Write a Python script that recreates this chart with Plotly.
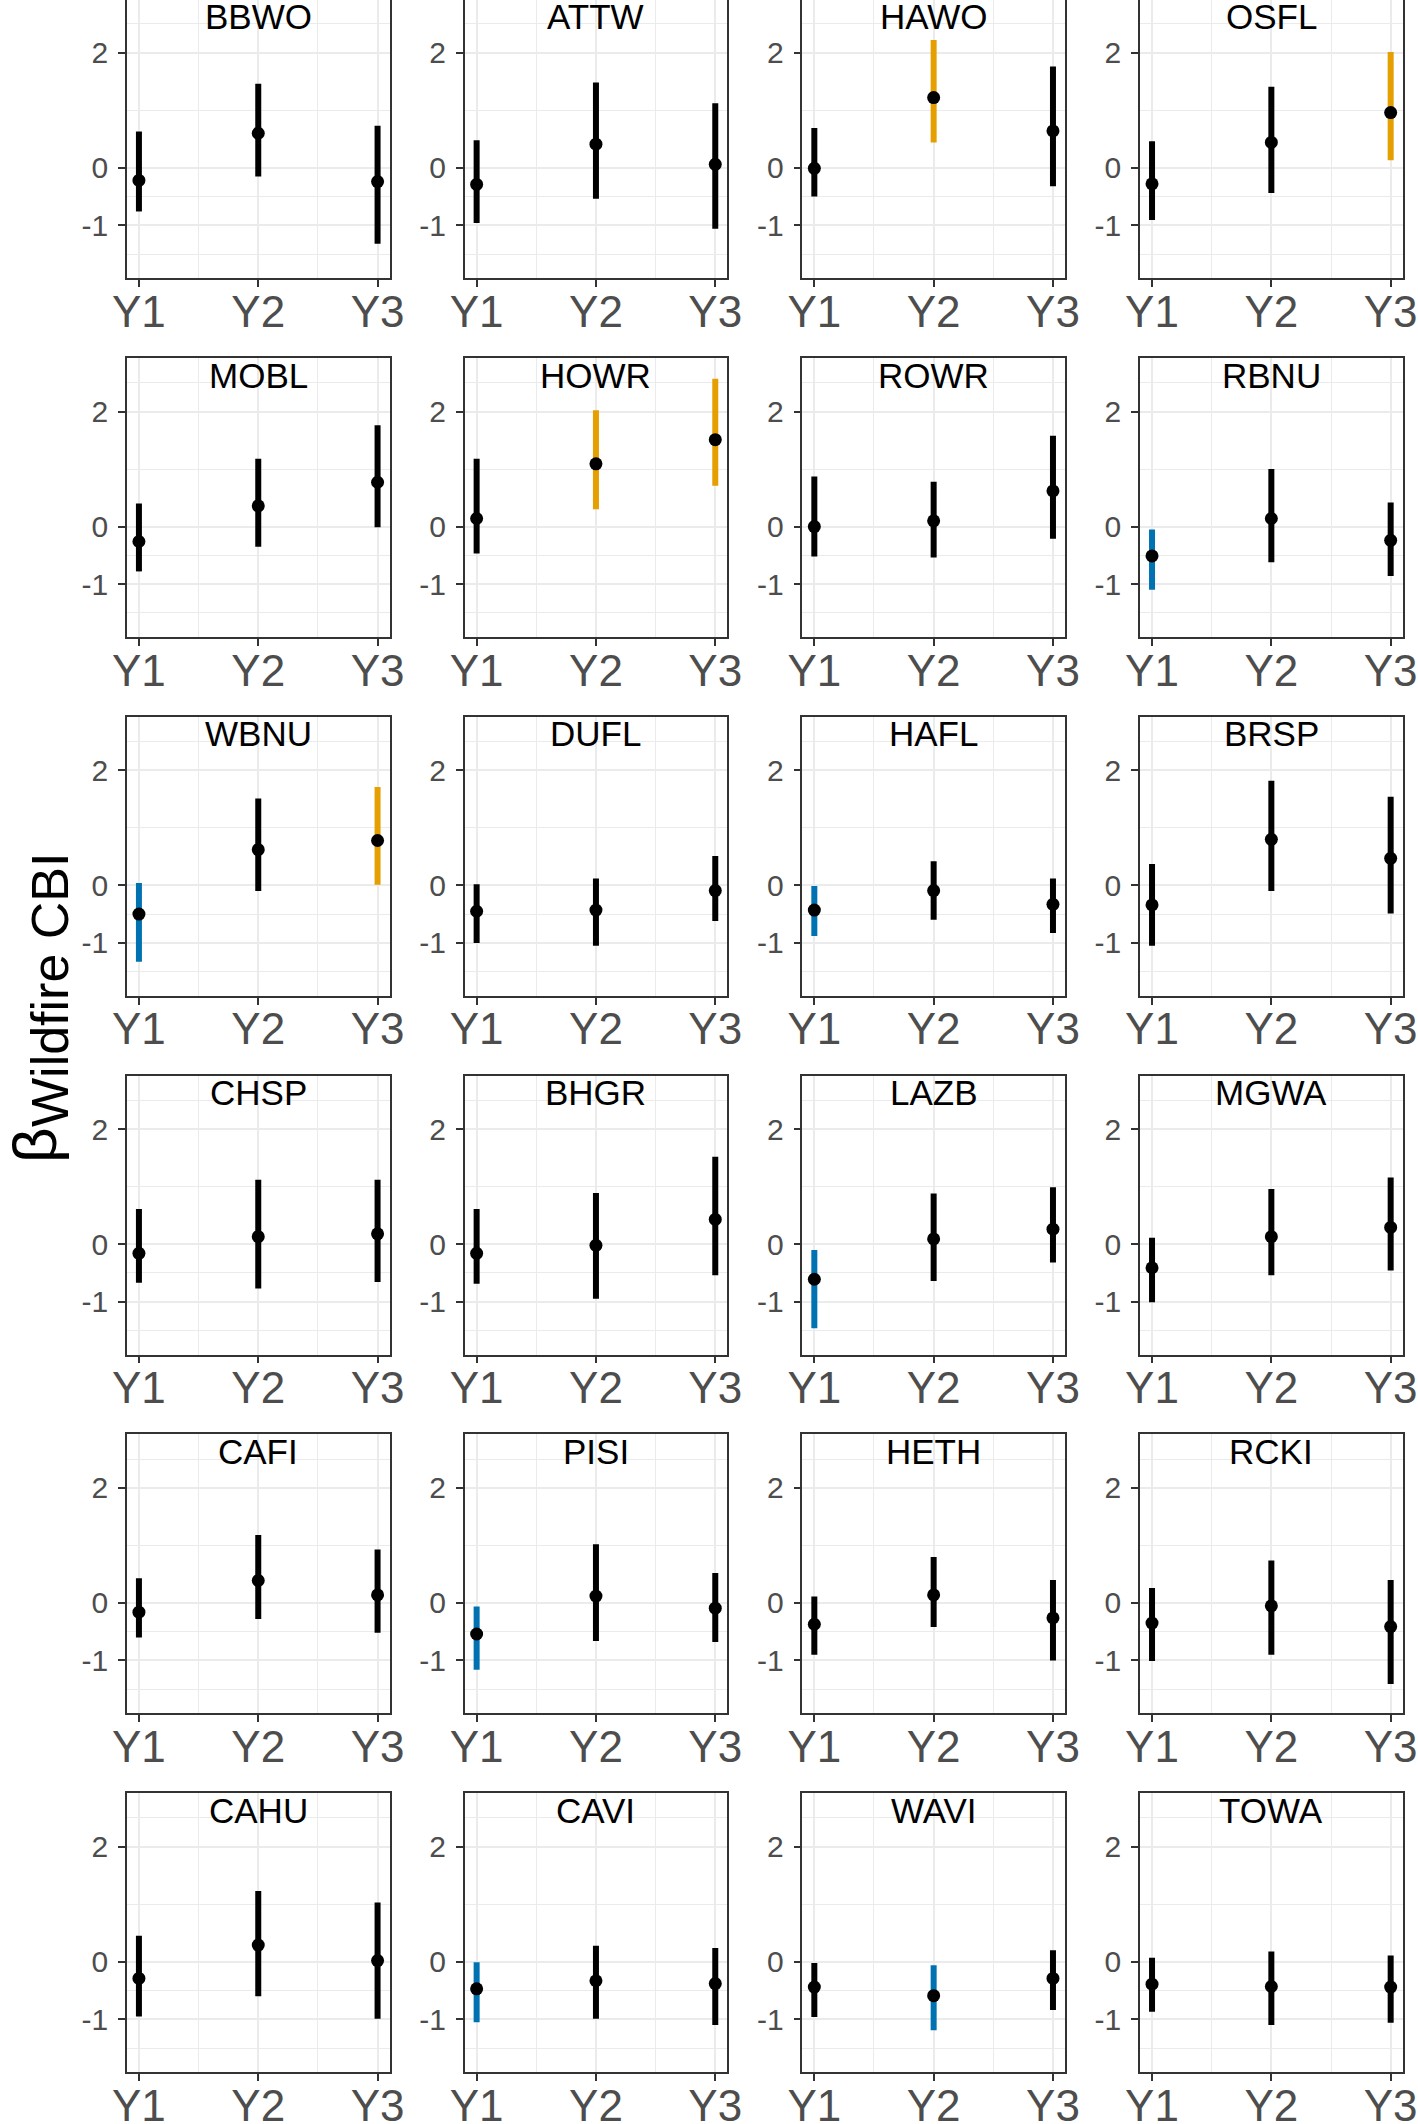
import plotly.graph_objects as go

# ---------------- data ----------------
SPECIES = ["BBWO", "ATTW", "HAWO", "OSFL",
           "MOBL", "HOWR", "ROWR", "RBNU",
           "WBNU", "DUFL", "HAFL", "BRSP",
           "CHSP", "BHGR", "LAZB", "MGWA",
           "CAFI", "PISI", "HETH", "RCKI",
           "CAHU", "CAVI", "WAVI", "TOWA"]
YEARS = ["Y1", "Y2", "Y3"]

EST = [[-0.22, 0.60, -0.24], [-0.29, 0.41, 0.06], [-0.01, 1.22, 0.64], [-0.28, 0.44, 0.96],
       [-0.26, 0.36, 0.77], [0.14, 1.09, 1.51], [0.00, 0.10, 0.62], [-0.51, 0.14, -0.24],
       [-0.50, 0.62, 0.78], [-0.45, -0.43, -0.09], [-0.43, -0.09, -0.33], [-0.34, 0.80, 0.47],
       [-0.16, 0.13, 0.18], [-0.16, -0.02, 0.43], [-0.61, 0.09, 0.26], [-0.41, 0.13, 0.29],
       [-0.16, 0.39, 0.14], [-0.54, 0.12, -0.09], [-0.37, 0.14, -0.26], [-0.35, -0.05, -0.41],
       [-0.29, 0.29, 0.02], [-0.47, -0.33, -0.38], [-0.44, -0.59, -0.29], [-0.39, -0.43, -0.44]]
LOWER = [[-0.76, -0.15, -1.32], [-0.96, -0.54, -1.06], [-0.50, 0.44, -0.32], [-0.91, -0.44, 0.13],
         [-0.78, -0.35, -0.01], [-0.47, 0.30, 0.71], [-0.52, -0.54, -0.21], [-1.10, -0.62, -0.86],
         [-1.33, -0.10, 0.01], [-1.00, -1.05, -0.62], [-0.88, -0.60, -0.83], [-1.05, -0.10, -0.49],
         [-0.67, -0.77, -0.66], [-0.69, -0.95, -0.54], [-1.46, -0.64, -0.32], [-1.01, -0.54, -0.46],
         [-0.60, -0.28, -0.52], [-1.16, -0.66, -0.68], [-0.90, -0.42, -1.00], [-1.01, -0.90, -1.41],
         [-0.95, -0.60, -0.99], [-1.05, -0.99, -1.10], [-0.96, -1.19, -0.84], [-0.87, -1.10, -1.06]]
UPPER = [[0.63, 1.46, 0.73], [0.48, 1.48, 1.12], [0.69, 2.22, 1.76], [0.46, 1.41, 2.01],
         [0.40, 1.18, 1.76], [1.18, 2.02, 2.57], [0.87, 0.78, 1.58], [-0.05, 1.00, 0.42],
         [0.04, 1.51, 1.71], [0.02, 0.12, 0.51], [-0.01, 0.42, 0.12], [0.37, 1.82, 1.54],
         [0.61, 1.12, 1.12], [0.61, 0.89, 1.52], [-0.10, 0.88, 0.99], [0.11, 0.96, 1.16],
         [0.43, 1.18, 0.93], [-0.06, 1.02, 0.52], [0.11, 0.80, 0.40], [0.26, 0.74, 0.40],
         [0.45, 1.23, 1.03], [-0.01, 0.28, 0.24], [-0.02, -0.06, 0.20], [0.07, 0.18, 0.11]]
# significance: 0 = overlaps zero, 1 = positive, -1 = negative
SIG = [[0, 0, 0], [0, 0, 0], [0, 1, 0], [0, 0, 1],
       [0, 0, 0], [0, 1, 1], [0, 0, 0], [-1, 0, 0],
       [-1, 0, 1], [0, 0, 0], [-1, 0, 0], [0, 0, 0],
       [0, 0, 0], [0, 0, 0], [-1, 0, 0], [0, 0, 0],
       [0, 0, 0], [-1, 0, 0], [0, 0, 0], [0, 0, 0],
       [0, 0, 0], [-1, 0, 0], [0, -1, 0], [0, 0, 0]]

Y_TICKS = [-1, 0, 2]
Y_MINOR = [-1.5, -0.5, 1, 2.5]

# ---------------- style ----------------
SIG_COLORS = {0: "black", 1: "#E69F00", -1: "#0072B2"}
W, H = 1418, 2124
NCOL, NROW = 4, 6
COL_LEFT0, COL_STEP, PANEL_W = 127, 337.7, 262.5
ROW_TOP0, ROW_STEP, PANEL_H = -0.8, 358.8, 279
Y_TOP, Y_BOT = 2.93, -1.92
FONT = "Liberation Sans, Arial, sans-serif"

fig = go.Figure()
layout = dict(width=W, height=H, autosize=False, template="none",
              margin=dict(l=0, r=0, t=0, b=0, pad=0),
              paper_bgcolor="white", plot_bgcolor="white",
              showlegend=False, font=dict(family=FONT))
annotations = []

for i, sp in enumerate(SPECIES):
    r, c = divmod(i, NCOL)
    n = i + 1
    xa = "x" if n == 1 else f"x{n}"
    ya = "y" if n == 1 else f"y{n}"
    L = COL_LEFT0 + c * COL_STEP
    R = L + PANEL_W
    T = ROW_TOP0 + r * ROW_STEP
    B = T + PANEL_H
    yr_top = Y_TOP
    if T < 0:  # clip the first row at the page top, keep the scale
        yr_top = Y_TOP - (-T) / (PANEL_H / (Y_TOP - Y_BOT))
        T = 0
    xdom = [L / W, R / W]
    ydom = [max(0, 1 - B / H), min(1, 1 - T / H)]
    xs = [1, 2, 3]
    for j in range(3):
        fig.add_trace(go.Scatter(
            x=[xs[j], xs[j]], y=[LOWER[i][j], UPPER[i][j]], mode="lines",
            line=dict(color=SIG_COLORS[SIG[i][j]], width=6),
            xaxis=xa, yaxis=ya, hoverinfo="skip"))
    fig.add_trace(go.Scatter(
        x=xs, y=EST[i], mode="markers",
        marker=dict(color="black", size=13, line=dict(width=0)),
        xaxis=xa, yaxis=ya))

    axkey_x = "xaxis" if n == 1 else f"xaxis{n}"
    axkey_y = "yaxis" if n == 1 else f"yaxis{n}"
    layout[axkey_x] = dict(
        domain=xdom, anchor=ya, range=[0.9, 3.1], automargin=False,
        tickmode="array", tickvals=xs, ticktext=YEARS,
        showgrid=True, gridcolor="#EBEBEB", gridwidth=2,
        minor=dict(tickmode="array", tickvals=[1.5, 2.5], showgrid=True,
                   gridcolor="#EBEBEB", gridwidth=1, ticks=""),
        zeroline=False, showline=True, mirror=True,
        linecolor="#333333", linewidth=1.6,
        ticks="outside", ticklen=7, tickwidth=1.5, tickcolor="#333333",
        tickfont=dict(size=44, color="#4D4D4D", family=FONT),
        ticklabelstandoff=-13,
        fixedrange=True)
    layout[axkey_y] = dict(
        domain=ydom, anchor=xa, range=[Y_BOT, yr_top], automargin=False,
        tickmode="array", tickvals=Y_TICKS, ticktext=[str(v) for v in Y_TICKS],
        showgrid=True, gridcolor="#EBEBEB", gridwidth=2,
        minor=dict(tickmode="array", tickvals=Y_MINOR, showgrid=True,
                   gridcolor="#EBEBEB", gridwidth=1, ticks=""),
        zeroline=False, showline=True, mirror=True,
        linecolor="#333333", linewidth=1.6,
        ticks="outside", ticklen=7, tickwidth=1.5, tickcolor="#333333",
        tickfont=dict(size=30, color="#4D4D4D", family=FONT),
        ticklabelstandoff=4,
        fixedrange=True)
    top_page = ROW_TOP0 + r * ROW_STEP
    annotations.append(dict(
        text=sp, xref="paper", yref="paper",
        x=(L + R) / 2 / W, y=1 - (top_page + 17) / H,
        xanchor="center", yanchor="middle", showarrow=False,
        font=dict(size=35, color="black", family=FONT)))

# y axis title: beta with subscript
annotations.append(dict(
    text="β", xref="paper", yref="paper",
    x=34 / W, y=1 - 1145 / H, xanchor="center", yanchor="middle",
    textangle=-90, showarrow=False,
    font=dict(size=62, color="black", family=FONT)))
annotations.append(dict(
    text="Wildfire CBI", xref="paper", yref="paper",
    x=50 / W, y=1 - 990 / H, xanchor="center", yanchor="middle",
    textangle=-90, showarrow=False,
    font=dict(size=52, color="black", family=FONT)))

layout["annotations"] = annotations
fig.update_layout(**layout)
fig.write_html("out.html",
               config={"displayModeBar": False},
               post_script="document.body.style.margin='0';document.body.style.overflow='hidden';")
